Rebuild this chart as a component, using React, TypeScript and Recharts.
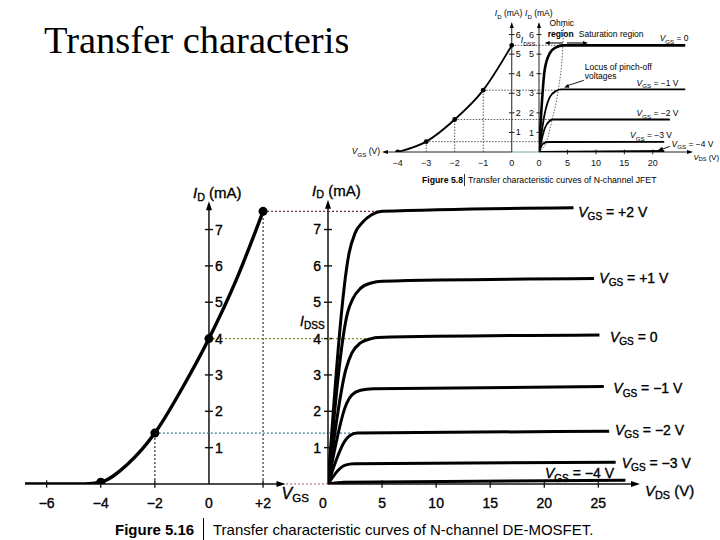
import React from 'react';
import { ComposedChart, Line, XAxis, YAxis, ReferenceLine, ReferenceDot } from 'recharts';

const SANS = '"Liberation Sans", Arial, Helvetica, sans-serif';
const SERIF = '"Liberation Serif", "Times New Roman", serif';

// ---------- Figure 5.16 : N-channel DE-MOSFET ----------
const mosVgs = [-6.8, -5.5, -4.6, -4, -3, -2, -1, 0, 1, 2];
const mosId = [0, 0, 0, 0.05, 0.55, 1.4, 2.62, 4.0, 5.6, 7.5];
const mosMarkVgs = [-4, -2, 0, 2];
const mosMarkId = [0.05, 1.4, 4.0, 7.5];
const mosVgsTicks = [-6, -4, -2, 0, 2];
const mosIdTicks = [1, 2, 3, 4, 5, 6, 7];
const mosVdsTicks = [0, 5, 10, 15, 20, 25];

const vdsP2 = [0, 1.95, 2.5, 3.2, 4.0, 5.0, 22.7];
const idP2 = [0, 6.35, 6.9, 7.2, 7.4, 7.5, 7.6];
const vdsP1 = [0, 1.8, 2.3, 3.0, 4.0, 5.0, 24.6];
const idP1 = [0, 4.7, 5.1, 5.38, 5.53, 5.58, 5.65];
const vdsZ = [0, 1.65, 2.2, 3.0, 4.0, 4.6, 25.1];
const idZ = [0, 3.15, 3.6, 3.88, 4.0, 4.03, 4.1];
const vdsM1 = [0, 1.7, 2.2, 3.0, 4.2, 25.5];
const idM1 = [0, 2.2, 2.45, 2.58, 2.62, 2.68];
const vdsM2 = [0, 1.6, 2.0, 2.7, 26.0];
const idM2 = [0, 1.2, 1.33, 1.4, 1.45];
const vdsM3 = [0, 1.2, 1.6, 2.4, 26.6];
const idM3 = [0, 0.45, 0.52, 0.56, 0.6];
const vdsM4 = [0, 1.5, 27.5];
const idM4 = [0, 0.05, 0.1];

// ---------- Figure 5.8 : N-channel JFET ----------
const jVgs = [-4, -3, -2, -1, 0];
const jId = [0, 0.53, 1.66, 3.16, 5.45];
const jVgsTicks = [-4, -3, -2, -1, 0];
const jIdTicks = [1, 2, 3, 4, 5, 6];
const jVdsTicks = [0, 5, 10, 15, 20];
const jv0 = [0, 1.0, 1.9, 3.0, 4.2, 25.7];
const ji0 = [0, 4.2, 5.05, 5.35, 5.45, 5.45];
const jv1 = [0, 1.0, 1.9, 3.0, 3.9, 25.7];
const ji1 = [0, 1.95, 2.8, 3.12, 3.2, 3.2];
const jv2 = [0, 1.0, 1.9, 2.4, 23];
const ji2 = [0, 1.2, 1.6, 1.66, 1.66];
const jv3 = [0, 0.7, 1.5, 22];
const ji3 = [0, 0.42, 0.51, 0.52];
const jv4 = [0, 22];
const ji4 = [0, 0.05];
const locusV = [0, 1.3, 2.3, 3.4, 4.2, 4.3];
const locusI = [0, 0.52, 1.66, 3.2, 5.45, 6.5];

const pts = (xs: number[], ys: number[]) => xs.map((x, i) => ({ x, y: ys[i] }));
const fmtSigned = (v: number) => (v > 0 ? '+' + v : v < 0 ? '\u2212' + Math.abs(v) : '0');

type LO = { dx?: number; dy?: number; anchor?: 'start' | 'middle' | 'end'; size?: number; bold?: boolean; heavy?: boolean };
const textAt = (content: React.ReactNode, o: LO) => (p: any) => (
  <text
    x={p.cx + (o.dx ?? 0)}
    y={p.cy + (o.dy ?? 0)}
    textAnchor={o.anchor ?? 'start'}
    dominantBaseline="central"
    fontSize={o.size ?? 14}
    fontFamily={SANS}
    fontWeight={o.bold ? 700 : 400}
    fill="#000"
    stroke={o.heavy ? '#000' : 'none'}
    strokeWidth={o.heavy ? 0.35 : 0}
  >
    {content}
  </text>
);
const sub = (main: string, s: string, rest: string, size: number) => (
  <>
    <tspan fontStyle="italic">{main}</tspan>
    <tspan fontSize={size * 0.72} dy={size * 0.3}>{s}</tspan>
    {rest ? <tspan dy={-size * 0.3}>{rest}</tspan> : null}
  </>
);
const lbl = (key: string, x: number, y: number, content: React.ReactNode, o: LO = {}) => (
  <ReferenceDot key={key} x={x} y={y} r={1} ifOverflow="visible" shape={textAt(content, o)} />
);
const seg = (key: string, x1: number, y1: number, x2: number, y2: number, stroke = '#000', w = 1, dash?: string) => (
  <ReferenceLine key={key} segment={[{ x: x1, y: y1 }, { x: x2, y: y2 }]} stroke={stroke} strokeWidth={w} strokeDasharray={dash} ifOverflow="visible" />
);
const arrowShape = (deg: number, len: number, wid: number) => (p: any) => (
  <polygon points={`0,0 ${-len},${-wid / 2} ${-len},${wid / 2}`} transform={`translate(${p.cx},${p.cy}) rotate(${deg})`} fill="#000" />
);
const arr = (key: string, x: number, y: number, deg: number, len = 8, wid = 6) => (
  <ReferenceDot key={key} x={x} y={y} r={1} ifOverflow="visible" shape={arrowShape(deg, len, wid)} />
);

const mainTick = { fontSize: 14, fill: '#000', fontFamily: SANS, stroke: '#000', strokeWidth: 0.35 };
const smallTick = { fontSize: 9, fill: '#111', fontFamily: SANS };

const vdsTick = (p: any) => (
  <text x={p.x + (p.payload.value === 0 ? -5 : 0)} y={p.y} dy="0.71em" textAnchor="middle" fontSize={14} fontFamily={SANS} fill="#000" stroke="#000" strokeWidth={0.35}>
    {p.payload.value}
  </text>
);

function MosTransfer() {
  return (
    <ComposedChart width={340} height={540} margin={{ top: 175, right: 12, bottom: 26, left: 25 }}>
      <XAxis type="number" dataKey="x" domain={[-6.8, 4.4]} allowDataOverflow ticks={mosVgsTicks} interval={0}
        axisLine={false} tickLine={false} tickSize={6} tickMargin={8} height={30} tickFormatter={fmtSigned} tick={mainTick} />
      <YAxis type="number" domain={[0, 8.5]} allowDataOverflow hide />
      {seg('xa', -6.8, 0, 2.75, 0, '#111', 1.4)}
      {arr('xarr', 2.83, 0, 0, 9, 6)}
      {seg('x0c', 2.85, 0, 4.4, 0, '#a0508a', 1.2, '2 2')}
      {mosVgsTicks.filter((v) => v !== 0).map((v) => seg('xt' + v, v, -0.1, v, 0.1, '#111', 1.3))}
      {seg('ya', 0, 0, 0, 7.6, '#111', 1.5)}
      {arr('yarr', 0, 7.78, -90, 9, 6)}
      {mosIdTicks.map((k) => seg('yt' + k, -0.15, k, 0.15, k, '#111', 1.4))}
      {mosIdTicks.map((k) => lbl('yl' + k, 0, k, String(k), { dx: 6, heavy: true }))}
      {seg('v2', 2, 0, 2, 7.5, '#333', 1.2, '2 2')}
      {seg('vm2', -2, 0, -2, 1.4, '#333', 1.2, '2 2')}
      {seg('h75', 2, 7.5, 4.4, 7.5, '#7a2a55', 1.3, '2 2')}
      {seg('h4', 0, 4, 4.4, 4, '#8c8a2a', 1.3, '2 2')}
      {seg('h14', -2, 1.4, 4.4, 1.4, '#3c7c86', 1.3, '2 2')}
      <Line data={pts(mosVgs, mosId)} dataKey="y" type="monotone" stroke="#000" strokeWidth={3.4} dot={false} isAnimationActive={false} />
      <Line data={pts(mosMarkVgs, mosMarkId)} dataKey="y" stroke="none" dot={{ r: 4.5, fill: '#000', stroke: 'none' }} isAnimationActive={false} />
      {lbl('vgs', 2.83, 0, sub('V', 'GS', '', 16), { dx: -4, dy: 9, heavy: true, size: 16 })}
      {lbl('id', 0, 7.78, sub('I', 'D', ' (mA)', 15), { dx: -16, dy: -9, heavy: true, size: 15 })}
    </ComposedChart>
  );
}

function MosDrain() {
  const curves = [
    [vdsP2, idP2], [vdsP1, idP1], [vdsZ, idZ], [vdsM1, idM1], [vdsM2, idM2], [vdsM3, idM3], [vdsM4, idM4],
  ];
  return (
    <ComposedChart width={430} height={540} margin={{ top: 175, right: 80, bottom: 26, left: 8 }}>
      <XAxis type="number" dataKey="x" domain={[0, 28.85]} allowDataOverflow ticks={mosVdsTicks} interval={0}
        axisLine={false} tickLine={false} tickSize={6} tickMargin={8} height={30} tick={vdsTick} />
      <YAxis type="number" domain={[0, 8.5]} allowDataOverflow ticks={mosIdTicks} interval={0}
        axisLine={false} tickLine={false} tickSize={4} tickMargin={3} width={30} tick={mainTick} />
      {seg('xa', 0, 0, 28.6, 0, '#111', 1.4)}
      {arr('xarr', 28.85, 0, 0, 9, 6)}
      {seg('ya', 0, 0, 0, 7.6, '#111', 1.5)}
      {arr('yarr', 0, 7.82, -90, 9, 6)}
      {mosIdTicks.map((k) => seg('yt' + k, -0.37, k, 0.37, k, '#111', 1.4))}
      {mosVdsTicks.filter((v) => v !== 0).map((v) => seg('xt' + v, v, -0.1, v, 0.1, '#111', 1.3))}
      {seg('h75', 0, 7.5, 4.8, 7.5, '#7a2a55', 1.3, '2 2')}
      {seg('h4', 0, 4, 4.2, 4, '#8c8a2a', 1.3, '2 2')}
      {seg('h14', 0, 1.4, 2.4, 1.4, '#3c7c86', 1.3, '2 2')}
      {curves.map(([xs, ys], i) => (
        <Line key={'c' + i} data={pts(xs, ys)} dataKey="y" type="monotone" stroke="#000" strokeWidth={3} dot={false} isAnimationActive={false} />
      ))}
      {lbl('l0', 23.14, 7.49, sub('V', 'GS', ' = +2 V', 14), { heavy: true })}
      {lbl('l1', 25.09, 5.66, sub('V', 'GS', ' = +1 V', 14), { heavy: true })}
      {lbl('l2', 26.07, 4.05, sub('V', 'GS', ' = 0', 14), { heavy: true })}
      {lbl('l3', 26.38, 2.63, sub('V', 'GS', ' = \u22121 V', 14), { heavy: true })}
      {lbl('l4', 26.54, 1.49, sub('V', 'GS', ' = \u22122 V', 14), { heavy: true })}
      {lbl('l5', 27.16, 0.57, sub('V', 'GS', ' = \u22123 V', 14), { heavy: true })}
      {lbl('l6', 20.06, 0.29, sub('V', 'GS', ' = \u22124 V', 14), { heavy: true })}
      {lbl('vds', 28.85, 0, sub('V', 'DS', ' (V)', 15), { dx: 5, dy: 6, heavy: true, size: 15 })}
      {lbl('id', 0, 7.82, sub('I', 'D', ' (mA)', 15), { dx: -16, dy: -10, heavy: true, size: 15 })}
      {lbl('idss', 0, 4, sub('I', 'DSS', '', 14), { dx: -28, dy: -18, heavy: true, size: 14 })}
    </ComposedChart>
  );
}

function JfetTransfer() {
  return (
    <ComposedChart width={200} height={188} margin={{ top: 15, right: 10, bottom: 20, left: 32 }}>
      <XAxis type="number" dataKey="x" domain={[-4.55, 0.99]} allowDataOverflow ticks={jVgsTicks} interval={0}
        axisLine={false} tickLine={false} tickSize={3} tickMargin={5} height={16} tickFormatter={fmtSigned} tick={smallTick} />
      <YAxis type="number" domain={[0, 7]} allowDataOverflow hide />
      {seg('xa', -4.4, 0, 0, 0, '#222', 1)}
      {seg('xb', 0, 0, 0.99, 0, '#7aa6a6', 1)}
      {arr('xarr', -4.55, 0, 180, 6, 4)}
      {seg('ya', 0, 0, 0, 6.45, '#222', 1)}
      {arr('yarr', 0, 6.64, -90, 6, 4)}
      {jIdTicks.map((k) => seg('yt' + k, -0.1, k, 0.1, k, '#222', 1))}
      {jIdTicks.map((k) => lbl('yl' + k, 0, k, String(k), { dx: 4, size: 9 }))}
      {jVgs.slice(1, 4).map((v, i) => seg('v' + i, v, 0, v, jId[i + 1], '#444', 0.9, '1.5 1.5'))}
      {jVgs.slice(1).map((v, i) => seg('h' + i, v, jId[i + 1], 0.99, jId[i + 1], '#444', 0.9, '1.5 1.5'))}
      <Line data={pts(jVgs, jId)} dataKey="y" type="monotone" stroke="#000" strokeWidth={1.8} dot={{ r: 2.4, fill: '#000', stroke: 'none' }} isAnimationActive={false} />
      {lbl('id', 0, 6.64, sub('I', 'D', ' (mA)', 8.5), { dx: -17, dy: -9, size: 8.5 })}
      {lbl('idss', 0, 5.45, sub('I', 'DSS', '', 8.5), { dx: 9, dy: -5, size: 8.5 })}
      {lbl('vgs', -4.55, 0, sub('V', 'GS', ' (V)', 8.5), { dx: -2, dy: -1, anchor: 'end', size: 8.5 })}
    </ComposedChart>
  );
}

function JfetDrain() {
  const curves: [number[], number[], number][] = [
    [jv0, ji0, 2.6], [jv1, ji1, 1.8], [jv2, ji2, 1.8], [jv3, ji3, 1.8], [jv4, ji4, 1.8],
  ];
  return (
    <ComposedChart width={210} height={188} margin={{ top: 15, right: 27, bottom: 20, left: 9 }}>
      <XAxis type="number" dataKey="x" domain={[0, 27.06]} allowDataOverflow ticks={jVdsTicks} interval={0}
        axisLine={false} tickLine={false} tickSize={3} tickMargin={5} height={16} tick={smallTick} />
      <YAxis type="number" domain={[0, 7]} allowDataOverflow ticks={jIdTicks} interval={0}
        axisLine={false} tickLine={false} tickSize={2} tickMargin={3} width={20} tick={smallTick} />
      {seg('xa', 0, 0, 26.7, 0, '#222', 1)}
      {arr('xarr', 27.06, 0, 0, 6, 4)}
      {seg('ya', 0, 0, 0, 6.45, '#222', 1)}
      {arr('yarr', 0, 6.64, -90, 6, 4)}
      {jIdTicks.map((k) => seg('yt' + k, -0.44, k, 0.44, k, '#222', 1))}
      {jVdsTicks.filter((v) => v !== 0).map((v) => seg('xt' + v, v, -0.12, v, 0.12, '#222', 1))}
      {seg('h0', 0, 5.45, 4.2, 5.45, '#444', 0.9, '1.5 1.5')}
      {seg('h1', 0, 3.16, 3.4, 3.16, '#444', 0.9, '1.5 1.5')}
      {seg('h2', 0, 1.66, 2.3, 1.66, '#444', 0.9, '1.5 1.5')}
      {seg('h3', 0, 0.53, 1.3, 0.53, '#444', 0.9, '1.5 1.5')}
      <Line data={pts(locusV, locusI)} dataKey="y" type="monotone" stroke="#555" strokeWidth={0.9} strokeDasharray="1.5 1.5" dot={false} isAnimationActive={false} />
      {curves.map(([xs, ys, w], i) => (
        <Line key={'c' + i} data={pts(xs, ys)} dataKey="y" type="monotone" stroke="#000" strokeWidth={w} dot={false} isAnimationActive={false} />
      ))}
      {lbl('ohm1', 4.0, 6.57, 'Ohmic', { anchor: 'middle', size: 8.5 })}
      {lbl('ohm2', 3.8, 6.05, 'region', { anchor: 'middle', size: 8.5, bold: true })}
      {lbl('sat', 7.0, 6.05, 'Saturation region', { size: 8.5 })}
      {seg('oa', 1.4, 5.57, 4.2, 5.57, '#000', 1.1)}
      {arr('oah', 1.0, 5.57, 180, 5, 4)}
      {seg('sa', 4.9, 5.57, 8.1, 5.57, '#000', 1.1)}
      {arr('sah', 8.6, 5.57, 0, 5, 4)}
      {lbl('loc1', 8.05, 4.34, 'Locus of pinch-off', { size: 8.5 })}
      {lbl('loc2', 8.05, 3.87, 'voltages', { size: 8.5 })}
      {seg('la', 7.87, 3.66, 4.8, 3.37, '#000', 0.9)}
      {arr('lah', 4.4, 3.3, 161, 5, 4)}
      {lbl('g0', 21.2, 5.81, sub('V', 'GS', ' = 0', 8.5), { size: 8.5 })}
      {lbl('g1', 17.15, 3.53, sub('V', 'GS', ' = \u22121 V', 8.5), { size: 8.5 })}
      {lbl('g2', 17.15, 1.98, sub('V', 'GS', ' = \u22122 V', 8.5), { size: 8.5 })}
      {lbl('g3', 16.0, 0.85, sub('V', 'GS', ' = \u22123 V', 8.5), { size: 8.5 })}
      {lbl('g4', 23.3, 0.43, sub('V', 'GS', ' = \u22124 V', 8.5), { size: 8.5 })}
      {seg('g4a', 23.0, 0.29, 21.4, 0.12, '#000', 0.9)}
      {arr('g4h', 20.9, 0.09, 162, 5, 4)}
      {lbl('id', 0, 6.64, sub('I', 'D', ' (mA)', 8.5), { dx: -14, dy: -9, size: 8.5 })}
      {lbl('vds', 27.06, 0, sub('V', 'DS', ' (V)', 7.8), { dx: 0.5, dy: 5, size: 7.8 })}
    </ComposedChart>
  );
}

export default function App() {
  const abs = (left: number, top: number): React.CSSProperties => ({ position: 'absolute', left, top });
  return (
    <div style={{ position: 'absolute', left: 0, top: 0, width: 720, height: 540, background: '#fff', overflow: 'hidden' }}>
      <svg width={720} height={540} style={abs(0, 0)}>
        <defs>
          <clipPath id="titleClip">
            <rect x={0} y={0} width={348} height={120} />
          </clipPath>
        </defs>
        <text x={44} y={52.7} fontFamily={SERIF} fontSize={38.5} fill="#000" clipPath="url(#titleClip)">
          Transfer characteristics
        </text>
        <text x={115} y={535} fontFamily={SANS} fontSize={15} fontWeight={700} fill="#000">Figure 5.16</text>
        <line x1={203.5} y1={518} x2={203.5} y2={540} stroke="#000" strokeWidth={1} />
        <text x={213} y={535} fontFamily={SANS} fontSize={15} fill="#000">
          Transfer characteristic curves of N-channel DE-MOSFET.
        </text>
      </svg>
      <div style={{ position: 'absolute', left: 348, top: 0, width: 372, height: 183, background: '#fff' }} />
      <div style={abs(350, 0)}><JfetTransfer /></div>
      <div style={abs(510, 0)}><JfetDrain /></div>
      <svg width={372} height={188} style={abs(348, 0)}>
        <text x={74} y={183} fontFamily={SANS} fontSize={8.7} fontWeight={700} fill="#000">Figure 5.8</text>
        <line x1={116.5} y1={174} x2={116.5} y2={186} stroke="#000" strokeWidth={0.8} />
        <text x={120} y={183} fontFamily={SANS} fontSize={8.7} fill="#000">
          Transfer characteristic curves of N-channel JFET
        </text>
      </svg>
      <div style={abs(0, 0)}><MosTransfer /></div>
      <div style={abs(290, 0)}><MosDrain /></div>
    </div>
  );
}
